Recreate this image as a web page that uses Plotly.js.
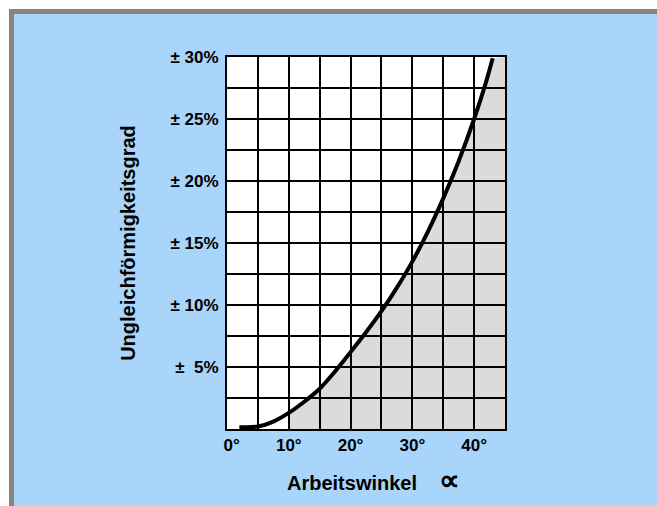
<!DOCTYPE html>
<html>
<head>
<meta charset="utf-8">
<script src="https://cdn.plot.ly/plotly-3.0.1.min.js"></script>
<style>
html,body{margin:0;padding:0;background:#ffffff;}
#chart{width:657px;height:506px;}
</style>
</head>
<body>
<div id="chart"></div>
<script>
// Data (Arbeitswinkel in degrees, Ungleichförmigkeitsgrad in %)
const angles = [2, 5, 7.5, 10, 12.5, 15, 17.5, 20, 22.5, 25, 27.5, 30, 32.5, 35, 37.5, 40, 42, 43];
const degree = [0.15, 0.2, 0.6, 1.3, 2.2, 3.25, 4.65, 6.2, 7.8, 9.5, 11.4, 13.5, 15.9, 18.6, 21.6, 25.0, 28.1, 29.9];

const xTickVals = [0, 5, 10, 15, 20, 25, 30, 35, 40, 45];
const xTickText = ['\u00a0\u00a00°', '', '10°', '', '20°', '', '30°', '', '40°', ''];
const yTickVals = [0, 2.5, 5, 7.5, 10, 12.5, 15, 17.5, 20, 22.5, 25, 27.5, 30];
const yTickText = ['', '', '±\u00a0\u00a05%', '', '± 10%', '', '± 15%', '', '± 20%', '', '± 25%', '', '± 30%'];

const xTitle = 'Arbeitswinkel\u00a0\u00a0\u00a0\u00a0<span style="font-size:29px">∝</span>';
const yTitle = 'Ungleichförmigkeitsgrad';

const xMax = 45, yMax = 30, shadeFrom = 10;

// Shaded region: below the curve from shadeFrom on, up to the right edge
const shadeX = [], shadeY = [];
angles.forEach((a, i) => { if (a >= shadeFrom) { shadeX.push(a); shadeY.push(degree[i]); } });
shadeX.push(xMax, xMax, shadeFrom);
shadeY.push(yMax, 0, 0);

const W = 657, H = 506, L = 227, R = 152, T = 57, B = 77;
const pw = W - L - R, ph = H - T - B;
const px = v => (v - L) / pw;
const py = v => (H - B - v) / ph;

const fam = 'Liberation Sans, Arial, sans-serif';
const tickFont = {family: fam, size: 17, color: '#000', weight: 'bold'};
const titleFont = {family: fam, size: 20, color: '#000', weight: 'bold'};

const traces = [
  {x: shadeX, y: shadeY, mode: 'lines', fill: 'toself', fillcolor: 'rgba(0,0,0,0.14)',
   line: {width: 0}, hoverinfo: 'skip', showlegend: false},
  {x: angles, y: degree, mode: 'lines', line: {color: '#000', width: 4, shape: 'spline'},
   showlegend: false}
];

const frame = '#86867e';
const layout = {
  width: W, height: H,
  margin: {l: L, r: R, t: T, b: B, pad: 0},
  paper_bgcolor: '#a8d5f9',
  plot_bgcolor: '#ffffff',
  showlegend: false,
  xaxis: {
    range: [0, xMax], tickvals: xTickVals, ticktext: xTickText,
    showgrid: true, gridcolor: '#000', gridwidth: 2,
    showline: true, linecolor: '#000', linewidth: 2, mirror: true,
    ticks: '', zeroline: false, tickfont: tickFont, fixedrange: true
  },
  yaxis: {
    range: [0, yMax], tickvals: yTickVals, ticktext: yTickText,
    showgrid: true, gridcolor: '#000', gridwidth: 2,
    showline: true, linecolor: '#000', linewidth: 2, mirror: true,
    ticks: '', zeroline: false, tickfont: tickFont, fixedrange: true, ticklabelstandoff: 3,
    title: {text: yTitle, font: titleFont, standoff: 30}
  },
  annotations: [
    {text: xTitle, xref: 'paper', yref: 'paper', x: px(373), y: py(480),
     xanchor: 'center', yanchor: 'middle', showarrow: false, font: titleFont}
  ],
  shapes: [
    {type: 'rect', xref: 'paper', yref: 'paper', x0: px(0), x1: px(W), y0: py(0), y1: py(9), fillcolor: '#ffffff', line: {width: 0}, layer: 'below'},
    {type: 'rect', xref: 'paper', yref: 'paper', x0: px(0), x1: px(9), y0: py(0), y1: py(H), fillcolor: '#ffffff', line: {width: 0}, layer: 'below'},
    {type: 'rect', xref: 'paper', yref: 'paper', x0: px(9), x1: px(W), y0: py(9), y1: py(14), fillcolor: frame, line: {width: 0}, layer: 'below'},
    {type: 'rect', xref: 'paper', yref: 'paper', x0: px(9), x1: px(14), y0: py(9), y1: py(H), fillcolor: frame, line: {width: 0}, layer: 'below'}
  ]
};

Plotly.newPlot('chart', traces, layout, {displayModeBar: false, staticPlot: true});
</script>
</body>
</html>
